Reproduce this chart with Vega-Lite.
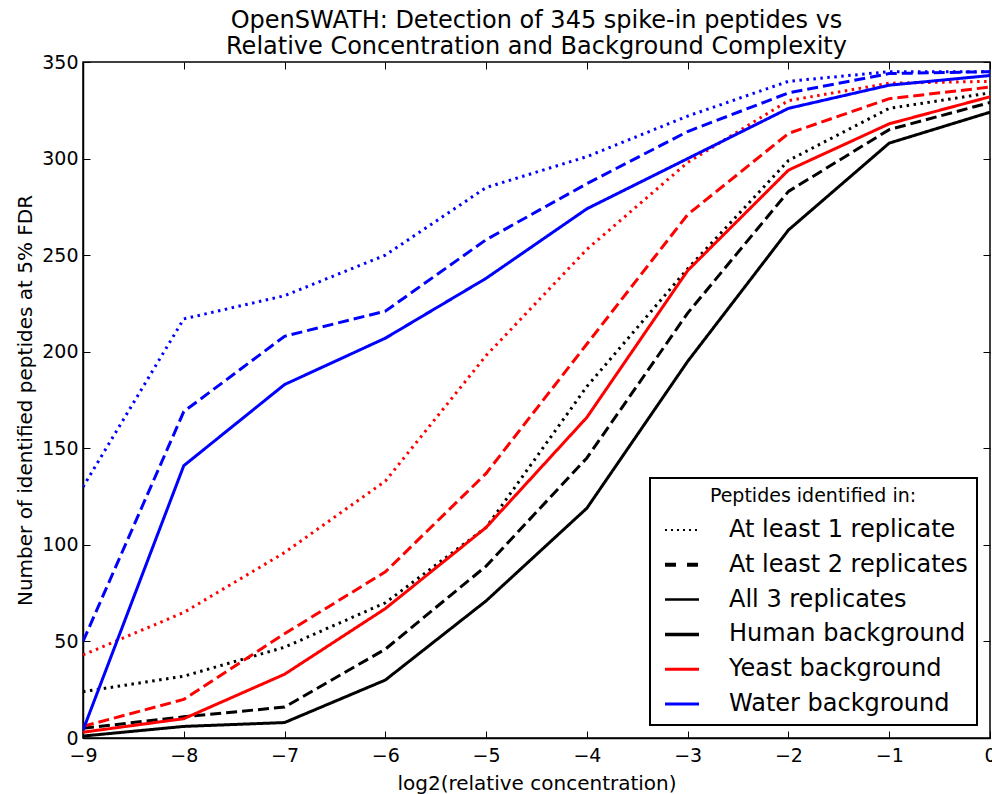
{
  "$schema": "https://vega.github.io/schema/vega-lite/v6.json",
  "autosize": {"type": "none"},
  "width": 907,
  "height": 676,
  "padding": {"left": 83, "top": 62, "right": 2, "bottom": 56},
  "background": "white",
  "title": {
    "text": ["OpenSWATH: Detection of 345 spike-in peptides vs", "Relative Concentration and Background Complexity"],
    "font": "DejaVu Sans",
    "fontSize": 24,
    "fontWeight": "normal",
    "color": "black",
    "anchor": "middle",
    "offset": -6,
    "lineHeight": 26
  },
  "config": {
    "view": {"stroke": "black", "strokeWidth": 1.5},
    "axis": {
      "labelFont": "DejaVu Sans",
      "labelFontSize": 19,
      "labelColor": "black",
      "titleFont": "DejaVu Sans",
      "titleFontSize": 20,
      "titleFontWeight": "normal",
      "titleColor": "black",
      "domainColor": "black",
      "domainWidth": 1.5,
      "tickColor": "black",
      "tickWidth": 1,
      "tickSize": -7,
      "grid": false
    }
  },
  "data": {
    "values": [
      {"x": -9, "y": 24, "bg": "Human background", "rep": "At least 1 replicate"},
      {"x": -8, "y": 32, "bg": "Human background", "rep": "At least 1 replicate"},
      {"x": -7, "y": 47, "bg": "Human background", "rep": "At least 1 replicate"},
      {"x": -6, "y": 70, "bg": "Human background", "rep": "At least 1 replicate"},
      {"x": -5, "y": 109, "bg": "Human background", "rep": "At least 1 replicate"},
      {"x": -4, "y": 182, "bg": "Human background", "rep": "At least 1 replicate"},
      {"x": -3, "y": 243, "bg": "Human background", "rep": "At least 1 replicate"},
      {"x": -2, "y": 299, "bg": "Human background", "rep": "At least 1 replicate"},
      {"x": -1, "y": 326, "bg": "Human background", "rep": "At least 1 replicate"},
      {"x": 0, "y": 334, "bg": "Human background", "rep": "At least 1 replicate"},
      {"x": -9, "y": 5, "bg": "Human background", "rep": "At least 2 replicates"},
      {"x": -8, "y": 11, "bg": "Human background", "rep": "At least 2 replicates"},
      {"x": -7, "y": 16, "bg": "Human background", "rep": "At least 2 replicates"},
      {"x": -6, "y": 46, "bg": "Human background", "rep": "At least 2 replicates"},
      {"x": -5, "y": 89, "bg": "Human background", "rep": "At least 2 replicates"},
      {"x": -4, "y": 145, "bg": "Human background", "rep": "At least 2 replicates"},
      {"x": -3, "y": 220, "bg": "Human background", "rep": "At least 2 replicates"},
      {"x": -2, "y": 283, "bg": "Human background", "rep": "At least 2 replicates"},
      {"x": -1, "y": 315, "bg": "Human background", "rep": "At least 2 replicates"},
      {"x": 0, "y": 329, "bg": "Human background", "rep": "At least 2 replicates"},
      {"x": -9, "y": 1, "bg": "Human background", "rep": "All 3 replicates"},
      {"x": -8, "y": 6, "bg": "Human background", "rep": "All 3 replicates"},
      {"x": -7, "y": 8, "bg": "Human background", "rep": "All 3 replicates"},
      {"x": -6, "y": 30, "bg": "Human background", "rep": "All 3 replicates"},
      {"x": -5, "y": 71, "bg": "Human background", "rep": "All 3 replicates"},
      {"x": -4, "y": 119, "bg": "Human background", "rep": "All 3 replicates"},
      {"x": -3, "y": 195, "bg": "Human background", "rep": "All 3 replicates"},
      {"x": -2, "y": 263, "bg": "Human background", "rep": "All 3 replicates"},
      {"x": -1, "y": 308, "bg": "Human background", "rep": "All 3 replicates"},
      {"x": 0, "y": 324, "bg": "Human background", "rep": "All 3 replicates"},
      {"x": -9, "y": 43, "bg": "Yeast background", "rep": "At least 1 replicate"},
      {"x": -8, "y": 65, "bg": "Yeast background", "rep": "At least 1 replicate"},
      {"x": -7, "y": 96, "bg": "Yeast background", "rep": "At least 1 replicate"},
      {"x": -6, "y": 133, "bg": "Yeast background", "rep": "At least 1 replicate"},
      {"x": -5, "y": 198, "bg": "Yeast background", "rep": "At least 1 replicate"},
      {"x": -4, "y": 253, "bg": "Yeast background", "rep": "At least 1 replicate"},
      {"x": -3, "y": 298, "bg": "Yeast background", "rep": "At least 1 replicate"},
      {"x": -2, "y": 330, "bg": "Yeast background", "rep": "At least 1 replicate"},
      {"x": -1, "y": 339, "bg": "Yeast background", "rep": "At least 1 replicate"},
      {"x": 0, "y": 340, "bg": "Yeast background", "rep": "At least 1 replicate"},
      {"x": -9, "y": 6, "bg": "Yeast background", "rep": "At least 2 replicates"},
      {"x": -8, "y": 20, "bg": "Yeast background", "rep": "At least 2 replicates"},
      {"x": -7, "y": 54, "bg": "Yeast background", "rep": "At least 2 replicates"},
      {"x": -6, "y": 86, "bg": "Yeast background", "rep": "At least 2 replicates"},
      {"x": -5, "y": 137, "bg": "Yeast background", "rep": "At least 2 replicates"},
      {"x": -4, "y": 204, "bg": "Yeast background", "rep": "At least 2 replicates"},
      {"x": -3, "y": 271, "bg": "Yeast background", "rep": "At least 2 replicates"},
      {"x": -2, "y": 313, "bg": "Yeast background", "rep": "At least 2 replicates"},
      {"x": -1, "y": 331, "bg": "Yeast background", "rep": "At least 2 replicates"},
      {"x": 0, "y": 337, "bg": "Yeast background", "rep": "At least 2 replicates"},
      {"x": -9, "y": 3, "bg": "Yeast background", "rep": "All 3 replicates"},
      {"x": -8, "y": 10, "bg": "Yeast background", "rep": "All 3 replicates"},
      {"x": -7, "y": 33, "bg": "Yeast background", "rep": "All 3 replicates"},
      {"x": -6, "y": 67, "bg": "Yeast background", "rep": "All 3 replicates"},
      {"x": -5, "y": 109, "bg": "Yeast background", "rep": "All 3 replicates"},
      {"x": -4, "y": 166, "bg": "Yeast background", "rep": "All 3 replicates"},
      {"x": -3, "y": 242, "bg": "Yeast background", "rep": "All 3 replicates"},
      {"x": -2, "y": 294, "bg": "Yeast background", "rep": "All 3 replicates"},
      {"x": -1, "y": 318, "bg": "Yeast background", "rep": "All 3 replicates"},
      {"x": 0, "y": 332, "bg": "Yeast background", "rep": "All 3 replicates"},
      {"x": -9, "y": 130, "bg": "Water background", "rep": "At least 1 replicate"},
      {"x": -8, "y": 217, "bg": "Water background", "rep": "At least 1 replicate"},
      {"x": -7, "y": 229, "bg": "Water background", "rep": "At least 1 replicate"},
      {"x": -6, "y": 250, "bg": "Water background", "rep": "At least 1 replicate"},
      {"x": -5, "y": 285, "bg": "Water background", "rep": "At least 1 replicate"},
      {"x": -4, "y": 301, "bg": "Water background", "rep": "At least 1 replicate"},
      {"x": -3, "y": 322, "bg": "Water background", "rep": "At least 1 replicate"},
      {"x": -2, "y": 340, "bg": "Water background", "rep": "At least 1 replicate"},
      {"x": -1, "y": 345, "bg": "Water background", "rep": "At least 1 replicate"},
      {"x": 0, "y": 345, "bg": "Water background", "rep": "At least 1 replicate"},
      {"x": -9, "y": 50, "bg": "Water background", "rep": "At least 2 replicates"},
      {"x": -8, "y": 169, "bg": "Water background", "rep": "At least 2 replicates"},
      {"x": -7, "y": 208, "bg": "Water background", "rep": "At least 2 replicates"},
      {"x": -6, "y": 221, "bg": "Water background", "rep": "At least 2 replicates"},
      {"x": -5, "y": 258, "bg": "Water background", "rep": "At least 2 replicates"},
      {"x": -4, "y": 287, "bg": "Water background", "rep": "At least 2 replicates"},
      {"x": -3, "y": 314, "bg": "Water background", "rep": "At least 2 replicates"},
      {"x": -2, "y": 334, "bg": "Water background", "rep": "At least 2 replicates"},
      {"x": -1, "y": 344, "bg": "Water background", "rep": "At least 2 replicates"},
      {"x": 0, "y": 345, "bg": "Water background", "rep": "At least 2 replicates"},
      {"x": -9, "y": 4, "bg": "Water background", "rep": "All 3 replicates"},
      {"x": -8, "y": 141, "bg": "Water background", "rep": "All 3 replicates"},
      {"x": -7, "y": 183, "bg": "Water background", "rep": "All 3 replicates"},
      {"x": -6, "y": 207, "bg": "Water background", "rep": "All 3 replicates"},
      {"x": -5, "y": 238, "bg": "Water background", "rep": "All 3 replicates"},
      {"x": -4, "y": 274, "bg": "Water background", "rep": "All 3 replicates"},
      {"x": -3, "y": 300, "bg": "Water background", "rep": "All 3 replicates"},
      {"x": -2, "y": 326, "bg": "Water background", "rep": "All 3 replicates"},
      {"x": -1, "y": 338, "bg": "Water background", "rep": "All 3 replicates"},
      {"x": 0, "y": 343, "bg": "Water background", "rep": "All 3 replicates"}
    ]
  },
  "resolve": {"axis": {"x": "independent", "y": "independent"}},
  "layer": [
    {
      "mark": {"type": "line", "strokeWidth": 3, "strokeCap": "butt", "strokeJoin": "miter", "clip": true},
      "encoding": {
        "x": {
          "field": "x", "type": "quantitative",
          "scale": {"domain": [-9, 0], "nice": false, "zero": false},
          "axis": {"values": [-9, -8, -7, -6, -5, -4, -3, -2, -1, 0], "title": "log2(relative concentration)", "labelPadding": 15, "titlePadding": 8, "labelFlush": false}
        },
        "y": {
          "field": "y", "type": "quantitative",
          "scale": {"domain": [0, 350], "nice": false},
          "axis": {"values": [0, 50, 100, 150, 200, 250, 300, 350], "title": "Number of identified peptides at 5% FDR", "labelPadding": 12, "titlePadding": 6}
        },
        "color": {
          "field": "bg", "type": "nominal",
          "scale": {
            "domain": ["At least 1 replicate", "At least 2 replicates", "All 3 replicates", "Human background", "Yeast background", "Water background"],
            "range": ["#000000", "#000000", "#000000", "#000000", "#ff0000", "#0000ff"]
          },
          "legend": {
            "title": "Peptides identified in:",
            "orient": "none",
            "legendX": 567,
            "legendY": 416,
            "direction": "vertical",
            "titleFont": "DejaVu Sans",
            "titleFontSize": 19,
            "titleFontWeight": "normal",
            "titleColor": "black",
            "titleAnchor": "middle",
            "titlePadding": 12,
            "titleLimit": 0,
            "labelFont": "DejaVu Sans",
            "labelFontSize": 24,
            "labelColor": "black",
            "labelLimit": 0,
            "labelOffset": 35,
            "symbolType": "stroke",
            "symbolSize": 1156,
            "symbolStrokeWidth": 3,
            "symbolOffset": 11,
            "rowPadding": 10.8,
            "padding": 9,
            "strokeColor": "black",
            "fillColor": "white",
            "encode": {
              "legend": {"update": {"strokeWidth": {"value": 2}}},
              "symbols": {
                "update": {
                  "strokeDash": {"signal": "datum.value === 'At least 1 replicate' ? [2, 4] : datum.value === 'At least 2 replicates' ? [11, 11] : [1, 0]"},
                  "strokeWidth": {"signal": "datum.value === 'At least 1 replicate' ? 2 : datum.value === 'At least 2 replicates' ? 4 : datum.value === 'All 3 replicates' ? 2.5 : datum.value === 'Human background' ? 3.5 : 3"}
                }
              }
            }
          }
        },
        "strokeDash": {
          "field": "rep", "type": "nominal",
          "scale": {
            "domain": ["At least 1 replicate", "At least 2 replicates", "All 3 replicates"],
            "range": [[2.5, 4.5], [11, 5], [1, 0]]
          },
          "legend": null
        }
      }
    },
    {
      "mark": {"type": "point", "opacity": 0},
      "encoding": {
        "x": {
          "field": "x", "type": "quantitative",
          "axis": {"orient": "top", "values": [-9, -8, -7, -6, -5, -4, -3, -2, -1, 0], "labels": false, "domain": false, "title": null}
        },
        "y": {
          "field": "y", "type": "quantitative",
          "axis": {"orient": "right", "values": [0, 50, 100, 150, 200, 250, 300, 350], "labels": false, "domain": false, "title": null}
        }
      }
    }
  ]
}
